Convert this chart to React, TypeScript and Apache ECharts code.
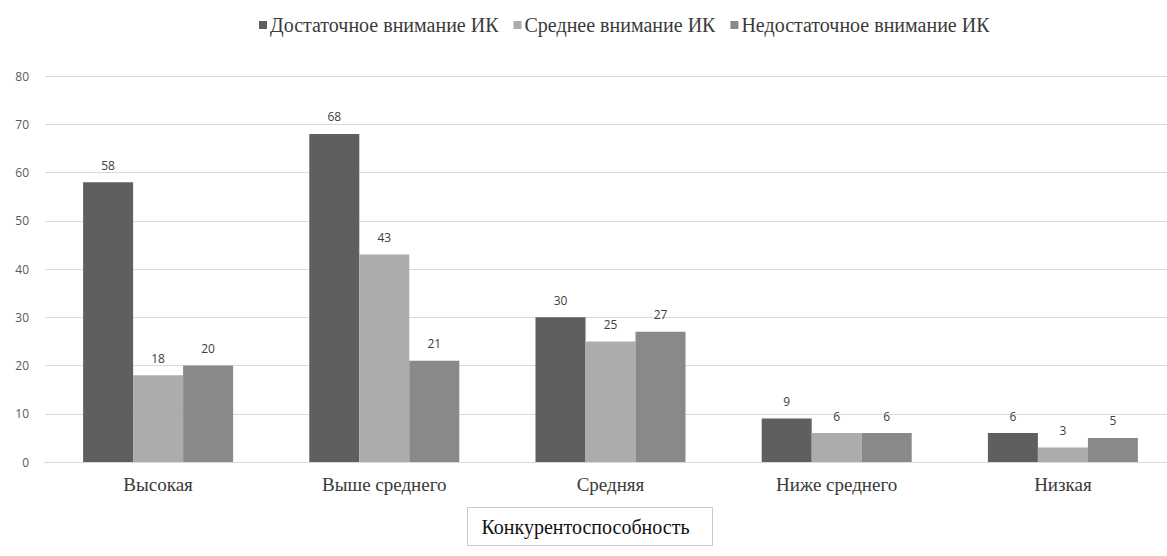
import React, { useEffect, useRef } from "react";
import * as echarts from "echarts";

const categories = ["Высокая", "Выше среднего", "Средняя", "Ниже среднего", "Низкая"];
const seriesNames = ["Достаточное внимание ИК", "Среднее внимание ИК", "Недостаточное внимание ИК"];
const sufficient = [58, 68, 30, 9, 6];
const medium = [18, 43, 25, 6, 3];
const insufficient = [20, 21, 27, 6, 5];
const colors = ["#5f5f5f", "#acacac", "#898989"];
const axisTitle = "Конкурентоспособность";

const SERIF = "Liberation Serif";
const SANS = "Open Sans";

export default function App() {
  const ref = useRef<HTMLDivElement>(null);
  useEffect(() => {
    document.body.style.margin = "0";
    if (!ref.current) return;
    const chart = echarts.init(ref.current, undefined, { renderer: "svg" });
    const values = [sufficient, medium, insufficient];
    chart.setOption({
      animation: false,
      backgroundColor: "#ffffff",
      legend: {
        top: 10,
        left: 254,
        itemWidth: 8,
        itemHeight: 8,
        itemGap: 15,
        icon: "rect",
        textStyle: { fontFamily: SERIF, fontSize: 20, color: "#3a3a3a", padding: [0, 0, 0, -2] },
        data: seriesNames,
      },
      grid: { left: 45, top: 76, width: 1131, height: 386, containLabel: false },
      xAxis: {
        type: "category",
        data: categories,
        axisLine: { lineStyle: { color: "#d9d9d9", width: 1 } },
        axisTick: { show: false },
        axisLabel: { fontFamily: SERIF, fontSize: 19, color: "#3a3a3a", margin: 13 },
      },
      yAxis: {
        type: "value",
        min: 0,
        max: 80,
        interval: 10,
        axisLine: { show: false },
        axisTick: { show: false },
        splitLine: { lineStyle: { color: "#d9d9d9", width: 1 } },
        axisLabel: { fontFamily: SANS, fontSize: 12, color: "#595959", margin: 16 },
      },
      series: seriesNames.map((name, i) => ({
        name,
        type: "bar",
        data: values[i],
        barWidth: 50,
        barGap: "0%",
        itemStyle: { color: colors[i] },
        label: {
          show: true,
          position: "top",
          distance: 11,
          fontFamily: SANS,
          fontSize: 12,
          color: "#404040",
        },
      })),
      graphic: [
        {
          type: "group",
          left: 467,
          top: 507,
          children: [
            {
              type: "rect",
              shape: { x: 0, y: 0, width: 245, height: 38 },
              style: { fill: "#ffffff", stroke: "#c8c8c8", lineWidth: 1 },
            },
            {
              type: "text",
              x: 118,
              y: 19,
              style: {
                text: axisTitle,
                fontFamily: SERIF,
                fontSize: 20,
                fill: "#111111",
                align: "center",
                verticalAlign: "middle",
              },
            },
          ],
        },
      ],
    });
    return () => chart.dispose();
  }, []);
  return (
    <div style={{ width: 1167, height: 556, overflow: "hidden", position: "relative" }}>
      <div ref={ref} style={{ width: 1180, height: 556 }} />
    </div>
  );
}
